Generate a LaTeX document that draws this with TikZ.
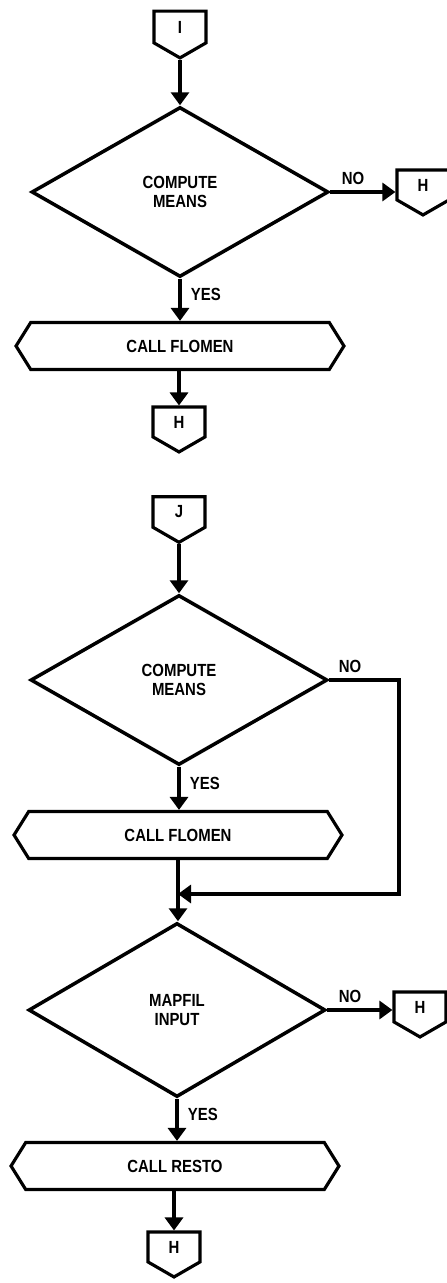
\documentclass[tikz,border=0pt]{standalone}
\usepackage{fontspec}
\newfontfamily\chartfont[FakeStretch=0.85]{Liberation Sans}
\usetikzlibrary{shapes.geometric,shapes.symbols,arrows.meta}

\begin{document}
\begin{tikzpicture}[x=0.02cm, y=-0.02cm,
    every node/.style={font=\chartfont\bfseries\fontsize{10}{11}\selectfont},
    line/.style={line width=1.8pt},
    flow/.style={line, -{Triangle[width=0.36cm,length=0.26cm]}},
    decision/.style={draw, line width=2pt, shape=diamond, minimum width=5.94cm, minimum height=3.4cm, inner sep=0pt, align=center},
    process/.style={draw, line, shape=signal, signal to=west and east, signal pointer angle=116, minimum width=6.56cm, minimum height=0.94cm, inner sep=0pt},
    offpage/.style={draw, line, shape=signal, signal to=south, signal from=nowhere, signal pointer angle=120, minimum width=1.04cm, minimum height=0.66cm, inner sep=0pt}]

    % Page size of the scan
    \useasboundingbox (0,0) rectangle (446,1283);

    % First chart: entry I
    \node[offpage] (conI) at (180,27) {I};
    \node[decision] (means1) at (180,192) {COMPUTE\\MEANS};
    \node[offpage] (exitH1) at (423,185) {H};
    \node[process] (flomen1) at (180,346) {CALL FLOMEN};
    \node[offpage] (exitH2) at (179,422) {H};

    \draw[flow] (conI.south) -- (conI.south |- means1.north);
    \draw[flow] (means1.east) -- node[above, pos=0.35] {NO} (means1.east -| exitH1.west);
    \draw[flow] (means1.south) -- node[right, pos=0.38, xshift=2pt] {YES} (means1.south |- flomen1.north);
    \draw[flow] (exitH2.north |- flomen1.south) -- (exitH2.north);

    % Second chart: entry J
    \node[offpage] (conJ) at (179,512) {J};
    \node[decision] (means2) at (179,680) {COMPUTE\\MEANS};
    \node[process] (flomen2) at (178,835) {CALL FLOMEN};
    \coordinate (merge) at (178,894);
    \coordinate (loop) at (399,894);
    \node[decision, minimum height=3.48cm] (mapfil) at (177,1010) {MAPFIL\\INPUT};
    \node[offpage] (exitH3) at (420,1007) {H};
    \node[process] (resto) at (175,1166) {CALL RESTO};
    \node[offpage] (exitH4) at (174,1247) {H};

    \draw[flow] (conJ.south) -- (conJ.south |- means2.north);
    \draw[flow] (means2.south) -- node[right, pos=0.38, xshift=2pt] {YES} (means2.south |- flomen2.north);
    % NO branch skips FLOMEN and rejoins below it
    \draw[flow] (means2.east) -| node[above, pos=0.15] {NO} (loop) -- (merge);
    \draw[flow] (flomen2.south) -- (flomen2.south |- mapfil.north);
    \draw[flow] (mapfil.east) -- node[above, pos=0.35] {NO} (mapfil.east -| exitH3.west);
    \draw[flow] (mapfil.south) -- node[right, pos=0.38, xshift=2pt] {YES} (mapfil.south |- resto.north);
    \draw[flow] (exitH4.north |- resto.south) -- (exitH4.north);
\end{tikzpicture}
\end{document}
